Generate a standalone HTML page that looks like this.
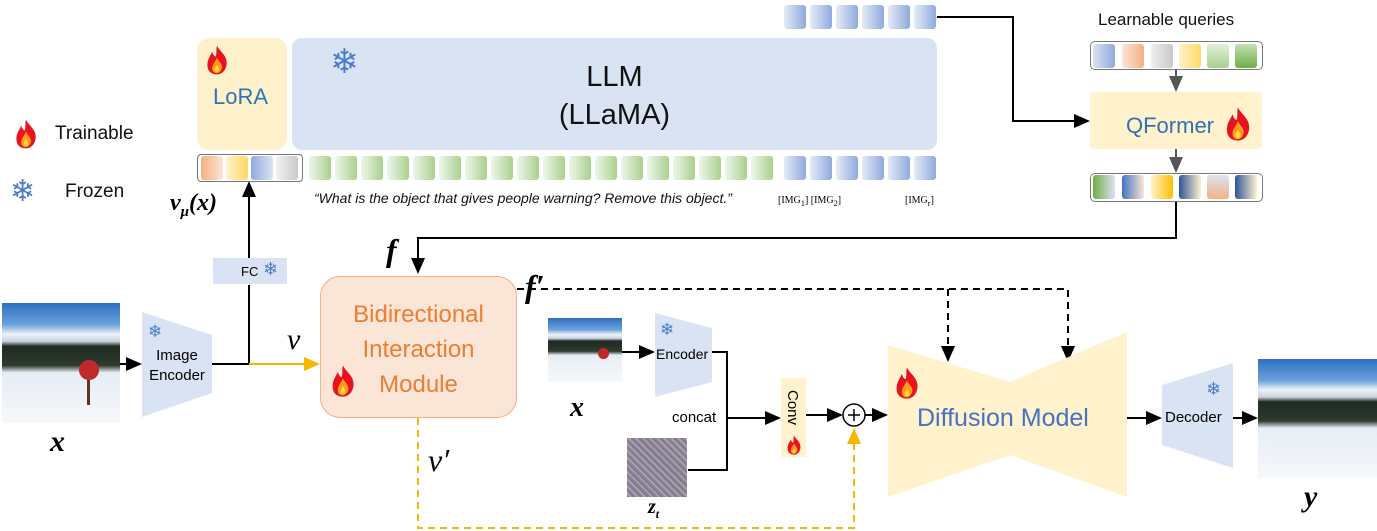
<!DOCTYPE html>
<html><head><meta charset="utf-8"><style>
body{margin:0;width:1377px;height:531px;background:#fff;position:relative;overflow:hidden;font-family:"Liberation Sans","DejaVu Sans",sans-serif}
.a{position:absolute}
.t{position:absolute;white-space:nowrap}
.tok{position:absolute;width:22px;height:24px;border-radius:3px}
.g{background:linear-gradient(90deg,#eef6ea,#a9d18e)}
.b{background:linear-gradient(90deg,#e4ebf7,#8faadc)}
.m{font-family:"Liberation Serif","DejaVu Serif",serif;font-style:italic;font-weight:bold}
.snow{color:#4a7cc7;font-family:"DejaVu Sans",sans-serif}
.pic{background:linear-gradient(180deg,#2f6fc0 0%,#6aa2dc 18%,#eef2f8 26%,#c8d2de 32%,#1f2a22 36%,#2d3a2c 52%,#e6edf5 58%,#f6f8fb 100%)}
</style></head><body>
<svg class="a" style="left:0;top:0" width="1377" height="531">
<defs>
<marker id="ar" markerWidth="8" markerHeight="8" refX="7" refY="4" orient="auto"><path d="M0,0.5 L8,4 L0,7.5z" fill="#000"/></marker>
<marker id="ag" markerWidth="8" markerHeight="8" refX="7" refY="4" orient="auto"><path d="M0,0.5 L8,4 L0,7.5z" fill="#555"/></marker>
<marker id="ao" markerWidth="8" markerHeight="8" refX="7" refY="4" orient="auto"><path d="M0,0.5 L8,4 L0,7.5z" fill="#f5b800"/></marker>
</defs>
<polyline points="937,17 1013,17 1013,121 1088,121" fill="none" stroke="#000" stroke-width="2" marker-end="url(#ar)"/>
<line x1="1176" y1="69" x2="1176" y2="90" stroke="#555" stroke-width="2" marker-end="url(#ag)"/>
<line x1="1176" y1="149" x2="1176" y2="171" stroke="#555" stroke-width="2" marker-end="url(#ag)"/>
<polyline points="1176,201 1176,238 418,238 418,272" fill="none" stroke="#000" stroke-width="2" marker-end="url(#ar)"/>
<line x1="120" y1="364" x2="140" y2="364" stroke="#000" stroke-width="2" marker-end="url(#ar)"/>
<line x1="212" y1="364" x2="249" y2="364" stroke="#000" stroke-width="2"/>
<line x1="249" y1="364" x2="249" y2="285" stroke="#000" stroke-width="2"/>
<line x1="249" y1="258" x2="249" y2="183" stroke="#000" stroke-width="2" marker-end="url(#ar)"/>
<line x1="249" y1="364" x2="318" y2="364" stroke="#f5b800" stroke-width="2" marker-end="url(#ao)"/>
<polyline points="517,289 1068,289 1068,360" fill="none" stroke="#000" stroke-width="2" stroke-dasharray="7,5" marker-end="url(#ar)"/>
<line x1="948" y1="289" x2="948" y2="360" stroke="#000" stroke-width="2" stroke-dasharray="7,5" marker-end="url(#ar)"/>
<polyline points="418,418 418,528 854,528 854,430" fill="none" stroke="#f5b800" stroke-width="2" stroke-dasharray="7,5" marker-end="url(#ao)"/>
<line x1="622" y1="352" x2="653" y2="352" stroke="#000" stroke-width="2" marker-end="url(#ar)"/>
<polyline points="712,352 727,352 727,470 688,470" fill="none" stroke="#000" stroke-width="2"/>
<line x1="727" y1="418" x2="779" y2="418" stroke="#000" stroke-width="2" marker-end="url(#ar)"/>
<line x1="806" y1="415" x2="841" y2="415" stroke="#000" stroke-width="2" marker-end="url(#ar)"/>
<circle cx="854" cy="415" r="11" fill="#fff" stroke="#000" stroke-width="1.5"/>
<path d="M848,415 H860 M854,409 V421" stroke="#000" stroke-width="1.5"/>
<line x1="865" y1="415" x2="886" y2="415" stroke="#000" stroke-width="2" marker-end="url(#ar)"/>
<line x1="1127" y1="418" x2="1160" y2="418" stroke="#000" stroke-width="2" marker-end="url(#ar)"/>
<line x1="1233" y1="418" x2="1256" y2="418" stroke="#000" stroke-width="2" marker-end="url(#ar)"/>
<polygon points="142,312 212,335 212,393 142,417" fill="#dae3f3"/>
<polygon points="655,313 712,328 712,382 655,397" fill="#dae3f3"/>
<polygon points="1162,385 1233,363 1233,468 1162,445" fill="#dae3f3"/>
<polygon points="888,345 1010,382 1127,332 1127,497 1010,455 888,497" fill="#fff2cc"/>
</svg>

<div class="a" style="left:197px;top:38px;width:90px;height:112px;background:#fff0cc;border-radius:12px"></div>
<div class="t" style="left:213px;top:84px;font-size:22px;color:#2e75b6">LoRA</div>
<div class="a" style="left:292px;top:38px;width:645px;height:112px;background:#dae3f3;border-radius:10px"></div>
<div class="t" style="left:292px;top:58px;width:645px;text-align:center;font-size:29px;line-height:38px;color:#111">LLM<br>(LLaMA)</div>
<div class="t snow" style="left:330px;top:42px;font-size:34px">❄</div>

<div class="a" style="left:197px;top:154px;width:104px;height:26px;border:1.5px solid #777;border-radius:4px"></div>
<div class="tok" style="left:201px;top:156px;background:linear-gradient(90deg,#f4b183,#fbe5d6)"></div>
<div class="tok" style="left:226px;top:156px;background:linear-gradient(90deg,#fff2cc,#ffd966)"></div>
<div class="tok" style="left:251px;top:156px;background:linear-gradient(90deg,#8faadc,#dae3f3)"></div>
<div class="tok" style="left:276px;top:156px;background:linear-gradient(90deg,#f2f2f2,#c9c9c9)"></div>
<div id="row"></div>

<div class="t" style="left:314px;top:190px;font-size:14px;font-style:italic;color:#111">“What is the object that gives people warning? Remove this object.”</div>
<div class="t" style="left:778px;top:195px;font-size:10px;font-family:'Liberation Serif',serif">[IMG<sub>1</sub>] [IMG<sub>2</sub>]</div>
<div class="t" style="left:905px;top:195px;font-size:10px;font-family:'Liberation Serif',serif">[IMG<sub>r</sub>]</div>

<div class="t" style="left:1098px;top:10px;font-size:17px;color:#111">Learnable queries</div>
<div class="a" style="left:1090px;top:41px;width:171px;height:27px;border:1.5px solid #777;border-radius:5px"></div>
<div class="a" style="left:1090px;top:92px;width:172px;height:57px;background:#fff2cc;border-radius:4px"></div>
<div class="t" style="left:1126px;top:113px;font-size:22px;color:#2e75b6">QFormer</div>
<div class="a" style="left:1090px;top:173px;width:171px;height:27px;border:1.5px solid #777;border-radius:5px"></div>

<div class="t" style="left:55px;top:123px;font-size:19px;color:#111">Trainable</div>
<div class="t snow" style="left:10px;top:174px;font-size:30px">❄</div>
<div class="t" style="left:65px;top:181px;font-size:19px;color:#111">Frozen</div>
<div class="t m" style="left:170px;top:190px;font-size:24px">v<sub style="font-size:15px">μ</sub>(x)</div>

<div class="a pic" style="left:2px;top:303px;width:118px;height:120px"></div>
<div class="a" style="left:79px;top:360px;width:20px;height:20px;border-radius:50%;background:#c0282a"></div>
<div class="a" style="left:87px;top:380px;width:3px;height:25px;background:#5a3b22"></div>
<div class="t m" style="left:50px;top:425px;font-size:30px">x</div>
<div class="t" style="left:145px;top:346px;font-size:15px;line-height:20px;text-align:center;width:64px">Image<br>Encoder</div>
<div class="t snow" style="left:148px;top:322px;font-size:17px">❄</div>
<div class="a" style="left:213px;top:258px;width:74px;height:26px;background:#dae3f3"></div>
<div class="t" style="left:241px;top:264px;font-size:13px">FC</div>
<div class="t snow" style="left:263px;top:259px;font-size:18px">❄</div>
<div class="t m" style="left:287px;top:323px;font-size:30px;font-weight:normal">v</div>
<div class="t m" style="left:386px;top:232px;font-size:32px">f</div>
<div class="t m" style="left:525px;top:268px;font-size:32px">f′</div>
<div class="t m" style="left:428px;top:442px;font-size:32px;font-weight:normal">v′</div>

<div class="a" style="left:320px;top:276px;width:195px;height:140px;background:#fbe5d6;border:1.5px solid #f4b183;border-radius:20px"></div>
<div class="t" style="left:320px;top:297px;width:197px;text-align:center;font-size:24px;line-height:35px;color:#ed7d31">Bidirectional<br>Interaction<br>Module</div>

<div class="a pic" style="left:548px;top:318px;width:74px;height:64px"></div>
<div class="a" style="left:598px;top:348px;width:11px;height:11px;border-radius:50%;background:#c0282a"></div>
<div class="t m" style="left:570px;top:392px;font-size:28px">x</div>
<div class="t" style="left:656px;top:346px;font-size:14px">Encoder</div>
<div class="t snow" style="left:660px;top:320px;font-size:17px">❄</div>
<div class="t" style="left:672px;top:409px;font-size:15px">concat</div>
<div class="a" style="left:627px;top:438px;width:60px;height:59px;background:repeating-linear-gradient(45deg,#8a8290 0 2px,#a79fb0 2px 4px,#787388 4px 5px)"></div>
<div class="t m" style="left:648px;top:496px;font-size:20px">z<sub style="font-size:12px">t</sub></div>
<div class="a" style="left:781px;top:378px;width:25px;height:79px;background:#fff2cc"></div>
<div class="t" style="left:784px;top:390px;font-size:15px;writing-mode:vertical-rl">Conv</div>
<div class="t" style="left:917px;top:404px;font-size:25px;color:#4472c4">Diffusion Model</div>
<div class="t" style="left:1165px;top:409px;font-size:15px">Decoder</div>
<div class="t snow" style="left:1206px;top:379px;font-size:18px">❄</div>
<div class="a pic" style="left:1258px;top:359px;width:119px;height:119px"></div>
<div class="t m" style="left:1304px;top:480px;font-size:30px">y</div>

<svg class="a" style="left:0;top:0;pointer-events:none" width="1377" height="531">
<defs><symbol id="fire" viewBox="0 0 20 26"><path d="M10,1 C12,6 19,9 18,17 C17,23 13,25 10,25 C6,25 2,23 2,17 C2,12 5,9 6,6 C7,9 8,10 9,10 C10,7 9,4 10,1z" fill="#e8131f"/><path d="M10,11 C11,14 15,16 14,20 C13,23 11,24 10,24 C8,24 6,23 6,20 C6,17 8,15 10,11z" fill="#ff9a1f"/><path d="M10,17 C11,19 12,20 12,22 C11,23.5 9,23.5 8,22 C8,20 9,19 10,17z" fill="#ffd83a"/></symbol></defs>
<use href="#fire" x="205" y="44" width="24" height="32"/>
<use href="#fire" x="14" y="118" width="24" height="32"/>
<use href="#fire" x="1224" y="106" width="28" height="36"/>
<use href="#fire" x="330" y="364" width="26" height="34"/>
<use href="#fire" x="894" y="366" width="26" height="34"/>
<use href="#fire" x="786" y="434" width="16" height="22"/>
</svg>

<script>
var r=document.getElementById('row'),h='';
for(var i=0;i<18;i++)h+='<div class="tok g" style="left:'+(309+i*26)+'px;top:156px"></div>';
for(var i=0;i<6;i++)h+='<div class="tok b" style="left:'+(784+i*26)+'px;top:156px"></div>';
for(var i=0;i<6;i++)h+='<div class="tok b" style="left:'+(784+i*26)+'px;top:5px"></div>';
var q=['linear-gradient(90deg,#dae3f3,#8faadc)','linear-gradient(90deg,#fbe5d6,#f4b183)','linear-gradient(90deg,#eee,#c9c9c9)','linear-gradient(90deg,#fff2cc,#ffd966)','linear-gradient(180deg,#e2f0d9,#a9d18e)','linear-gradient(180deg,#c5e0b4,#70ad47)'];
var o=['linear-gradient(90deg,#70ad47,#dae3f3)','linear-gradient(90deg,#4472c4,#fbe5d6)','linear-gradient(90deg,#fff2cc,#ffc000)','linear-gradient(90deg,#2f5597,#fff2cc)','linear-gradient(180deg,#dae3f3,#f4b183)','linear-gradient(90deg,#2f5597,#fff2cc)'];
var xs=[1093,1122,1151,1179,1207,1235];
for(var i=0;i<6;i++){h+='<div class="tok" style="left:'+xs[i]+'px;top:44px;background:'+q[i]+'"></div>';h+='<div class="tok" style="left:'+xs[i]+'px;top:175px;background:'+o[i]+'"></div>';}
r.innerHTML=h;
</script>
</body></html>
